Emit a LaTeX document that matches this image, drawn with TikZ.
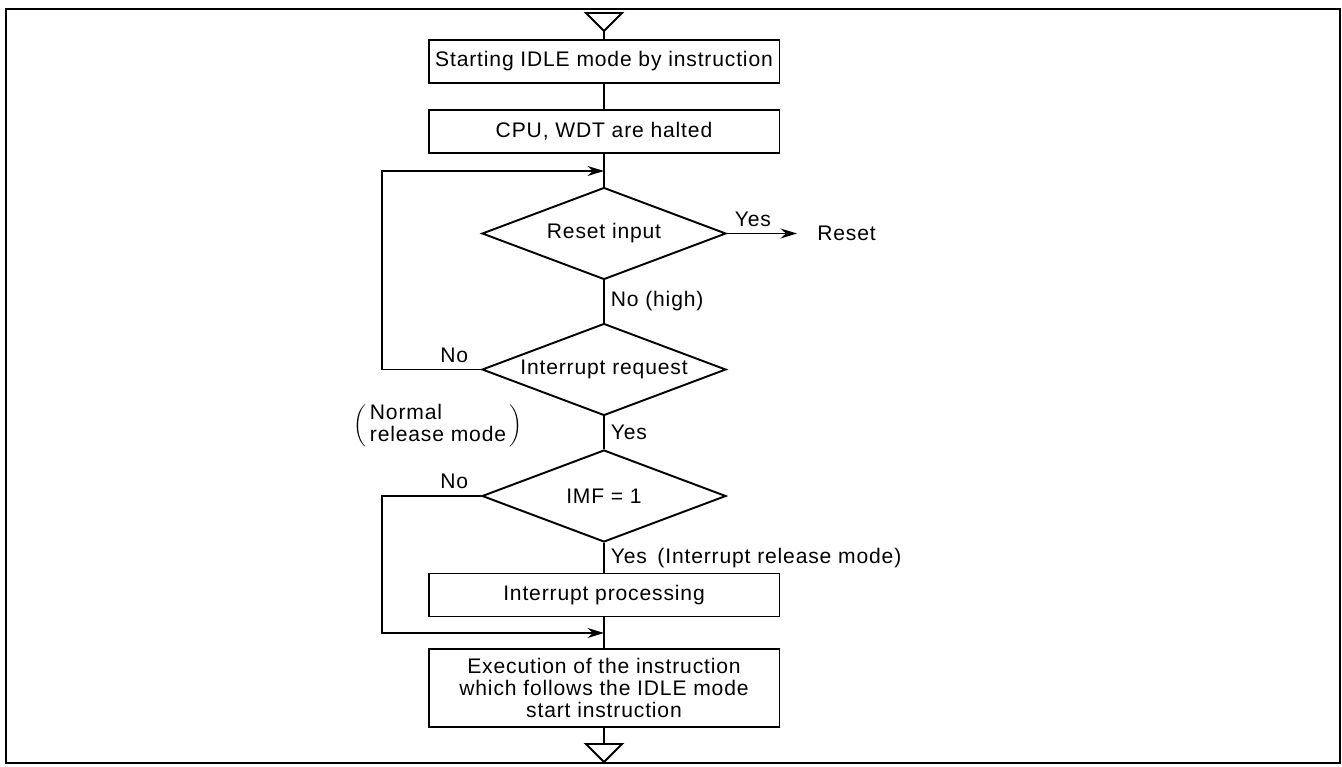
\documentclass[tikz,border=0pt]{standalone}
\usepackage{fontspec}
\setmainfont{Liberation Sans}[LetterSpace=4]
\usepackage{tikz}
\usetikzlibrary{shapes.geometric,arrows.meta}
\newcommand{\lbl}{\fontsize{12}{12.5}\selectfont}
\tikzset{
  base/.style={draw=black, line width=1.1pt},
  frame/.style={draw=black, line width=1.2pt},
  box/.style={base, rectangle, minimum width=7.02cm, minimum height=0.86cm, inner sep=0pt, align=center, font=\lbl},
  dec/.style={base, diamond, aspect=2.65, minimum width=4.88cm, minimum height=1.84cm, inner sep=0pt, font=\lbl},
  arr/.style={base, -{Stealth[length=3.3mm, width=2mm]}},
  lab/.style={font=\lbl},
}

\begin{document}
\begin{tikzpicture}[x=0.02cm, y=-0.02cm]
  \useasboundingbox (0,0) rectangle (1342,767);
  \draw[frame] (6,9) rectangle (1340,763);
  % entry mark
  \draw[base] (586,13) -- (622,13) -- (604,31) -- cycle;
  \coordinate (in) at (604,31);
  \node[box] (start) at (604,61.5) {Starting IDLE mode by instruction};
  \node[box] (halt) at (604,131.5) {CPU, WDT are halted};
  \node[dec] (rstin) at (604,233.5) {Reset input};
  \node[dec] (irq) at (604,369.5) {Interrupt request};
  \node[dec] (imf) at (604,496) {IMF = 1};
  \node[box] (proc) at (604,595) {Interrupt processing};
  \node[box, minimum height=1.56cm] (exec) at (604,688) {Execution of the instruction\\which follows the IDLE mode\\start instruction};
  \node[lab, anchor=west, inner sep=0pt] (rst) at (817,233.5) {Reset};
  \node[lab] (nrm) at (438,426) {$\left(\,\begin{tabular}{@{}l@{}}Normal\\release mode\end{tabular}\,\right)$};
  % exit mark
  \draw[base] (586,744) -- (622,744) -- (604,762) -- cycle;
  \coordinate (out) at (604,744);
  \coordinate (loop) at (604,171);
  \coordinate (join) at (604,633);
  \coordinate (rstend) at (797,233.5);

  \draw[base] (in) -- (start);
  \draw[base] (start) -- (halt);
  \draw[base] (halt) -- (rstin);
  \draw[arr] (rstin.east) -- node[lab, above, pos=0.37] {Yes} (rstend);
  \draw[base] (rstin) -- node[lab, right] {No (high)} (irq);
  \draw[arr] (irq.west) -- node[lab, above, pos=0.27] {No} ++(-99,0) |- (loop);
  \draw[base] (irq) -- node[lab, right] {Yes} (imf);
  \draw[arr] (imf.west) -- node[lab, above, pos=0.27] {No} ++(-99,0) |- (join);
  \draw[base] (imf) -- node[lab, right] {Yes\enspace(Interrupt release mode)} (proc);
  \draw[base] (proc) -- (exec);
  \draw[base] (exec) -- (out);
\end{tikzpicture}
\end{document}
